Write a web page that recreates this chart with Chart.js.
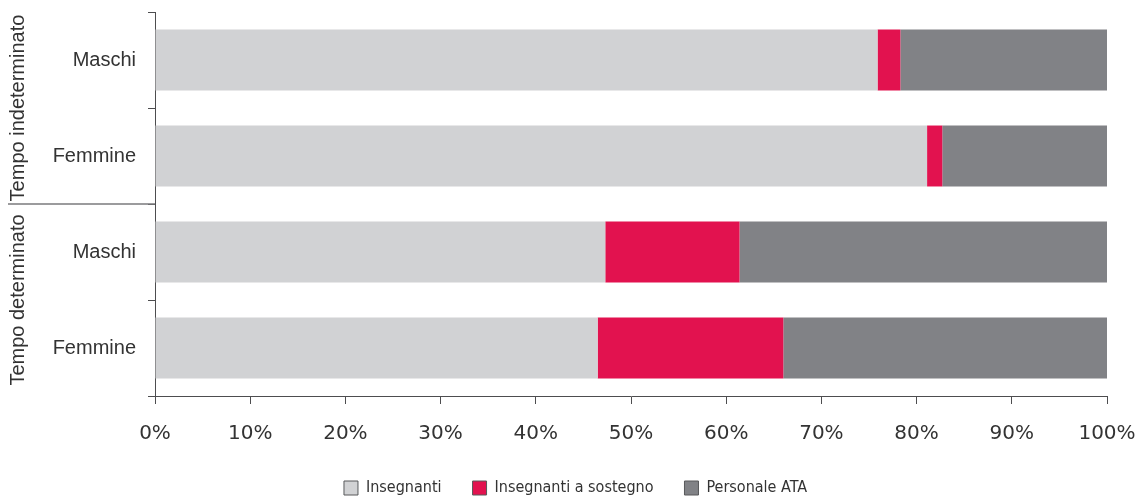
<!DOCTYPE html>
<html>
<head>
<meta charset="utf-8">
<script src="https://cdn.jsdelivr.net/npm/chart.js@4/dist/chart.umd.min.js"></script>
<style>
  body { margin: 0; background: #fff; }
  #wrap { width: 1138px; height: 498px; position: relative; }
</style>
</head>
<body>
<div id="wrap"><canvas id="chart"></canvas></div>
<script>
// categories (top to bottom) and their groups
const categories = ['Maschi', 'Femmine', 'Maschi', 'Femmine'];
const groups = ['Tempo indeterminato', 'Tempo determinato'];

// percentages
const insegnanti = [75.9, 81.1, 47.3, 46.5];
const sostegno = [2.4, 1.6, 14.1, 19.5];
const personaleAta = [21.7, 17.3, 38.6, 34.0];

const xTicks = [0, 10, 20, 30, 40, 50, 60, 70, 80, 90, 100];

const axisColor = '#4d4d4f';
const textColor = '#333333';

// group labels on the left + separator line between groups
const groupLabels = {
    id: 'groupLabels',
    afterDraw(chart) {
        const ctx = chart.ctx;
        const y = chart.scales.y;
        const sep = y.getPixelForValue(1.5);
        ctx.save();
        ctx.strokeStyle = '#7a7a7c';
        ctx.lineWidth = 1.5;
        ctx.beginPath();
        ctx.moveTo(8, Math.round(sep));
        ctx.lineTo(y.right, Math.round(sep));
        ctx.stroke();

        ctx.fillStyle = textColor;
        ctx.font = '20px "Liberation Sans", Arial, sans-serif';
        ctx.textAlign = 'center';
        ctx.textBaseline = 'middle';
        const centers = [y.getPixelForValue(0.5), y.getPixelForValue(2.5)];
        groups.forEach((g, i) => {
            ctx.save();
            ctx.translate(18, centers[i]);
            ctx.rotate(-Math.PI / 2);
            ctx.fillText(g, 0, 0);
            ctx.restore();
        });
        ctx.restore();
    }
};

new Chart(document.getElementById('chart'), {
    type: 'bar',
    data: {
        labels: categories,
        datasets: [
            {
                label: 'Insegnanti',
                data: insegnanti,
                backgroundColor: '#d1d2d4',
                borderWidth: 0
            },
            {
                label: 'Insegnanti a sostegno',
                data: sostegno,
                backgroundColor: '#e2124f',
                borderWidth: 0
            },
            {
                label: 'Personale ATA',
                data: personaleAta,
                backgroundColor: '#818286',
                borderWidth: 0
            }
        ]
    },
    options: {
        indexAxis: 'y',
        responsive: true,
        maintainAspectRatio: false,
        animation: false,
        categoryPercentage: 1,
        barPercentage: 0.635,
        layout: { padding: { top: 12, right: 31, left: 44, bottom: 0 } },
        scales: {
            x: {
                stacked: true,
                min: 0,
                max: 100,
                afterBuildTicks: (s) => { s.ticks = xTicks.map(v => ({ value: v })); },
                afterFit: (s) => {
                    s.height = 53;
                    s.paddingLeft = 0;
                    s.paddingRight = 0;
                },
                grid: {
                    drawOnChartArea: false,
                    tickLength: 8,
                    color: axisColor
                },
                border: { color: axisColor },
                ticks: {
                    padding: 18,
                    color: textColor,
                    font: { family: '"DejaVu Sans", sans-serif', size: 20 },
                    maxRotation: 0,
                    callback: (v) => v + '%'
                }
            },
            y: {
                stacked: true,
                afterFit: (s) => {
                    s.width = 111;
                    s.paddingTop = 0;
                    s.paddingBottom = 0;
                },
                grid: {
                    drawOnChartArea: false,
                    tickLength: 7,
                    color: axisColor,
                    offset: true
                },
                border: { color: axisColor },
                ticks: {
                    padding: 12,
                    color: textColor,
                    font: { family: '"Liberation Sans", Arial, sans-serif', size: 20 }
                }
            }
        },
        plugins: {
            legend: {
                position: 'bottom',
                maxHeight: 49,
                labels: {
                    boxWidth: 14,
                    boxHeight: 14,
                    padding: 31,
                    color: textColor,
                    font: { family: '"DejaVu Sans Condensed", "DejaVu Sans", sans-serif', size: 16 },
                    generateLabels: (chart) => {
                        const items = Chart.defaults.plugins.legend.labels.generateLabels(chart);
                        items.forEach(it => { it.strokeStyle = '#58595b'; it.lineWidth = 1; });
                        return items;
                    }
                }
            },
            tooltip: { enabled: false }
        }
    },
    plugins: [groupLabels]
});
</script>
</body>
</html>
